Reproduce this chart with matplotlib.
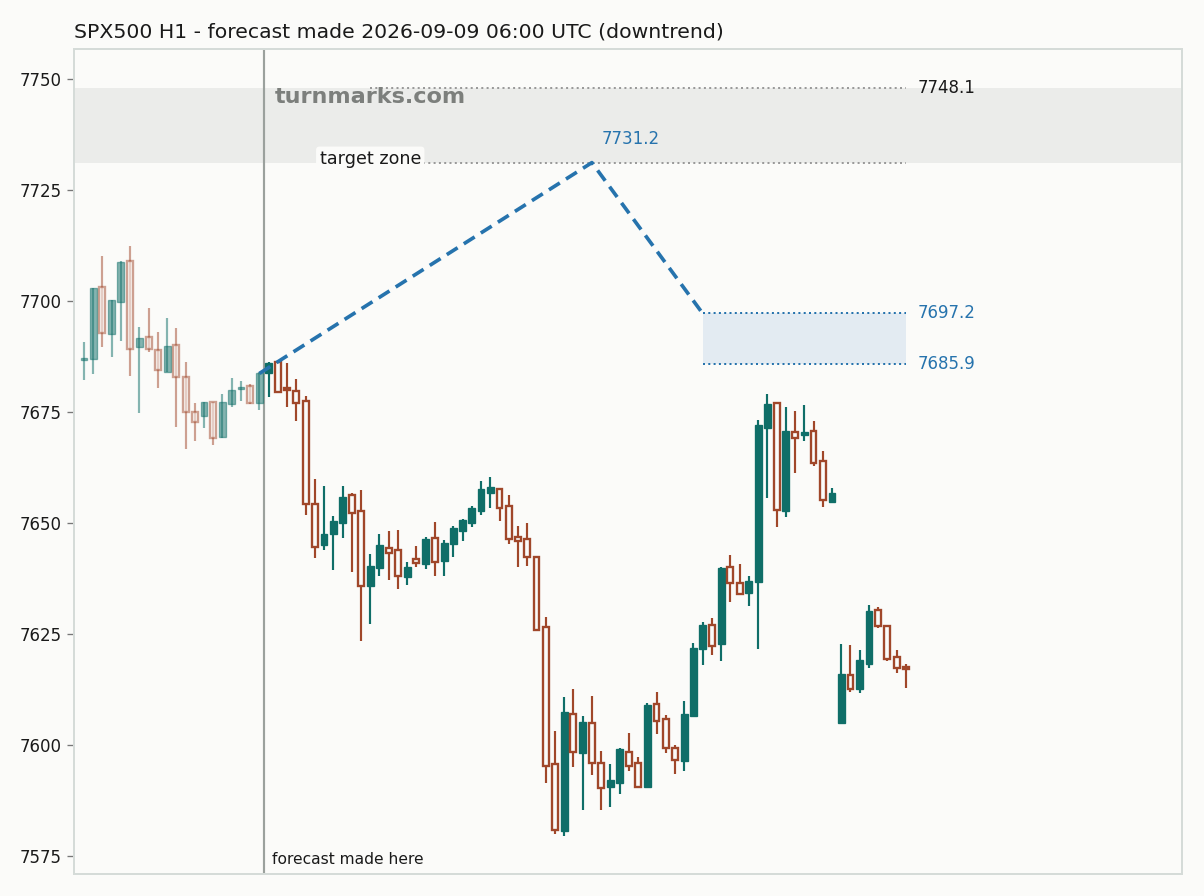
import numpy as np
import matplotlib
matplotlib.use("Agg")
import matplotlib.pyplot as plt

# --- data: hourly OHLC, first 20 bars are history before the forecast -------
opens = [7686.8, 7686.9, 7703.1, 7692.6, 7699.8, 7709.0, 7689.7, 7692.0, 7688.9, 7684.1,
         7690.0, 7683.0, 7674.9, 7674.0, 7677.2, 7669.4, 7676.9, 7680.1, 7680.9, 7677.1,
         7683.9, 7686.2, 7680.4, 7679.8, 7677.4, 7654.2, 7645.0, 7647.6, 7650.1, 7656.2,
         7652.6, 7635.9, 7639.9, 7644.4, 7643.9, 7637.9, 7641.8, 7640.7, 7646.5, 7641.5,
         7645.3, 7648.3, 7650.1, 7652.8, 7656.8, 7657.7, 7653.8, 7646.8, 7646.3, 7642.3,
         7626.5, 7595.7, 7580.5, 7606.9, 7598.1, 7604.9, 7595.9, 7590.4, 7591.5, 7598.4,
         7595.9, 7590.6, 7609.2, 7605.8, 7599.3, 7596.3, 7606.4, 7621.7, 7626.9, 7622.8,
         7640.0, 7636.4, 7634.3, 7636.6, 7671.5, 7677.0, 7652.8, 7670.4, 7669.8, 7670.7,
         7663.9, 7654.8, 7605.0, 7615.7, 7612.5, 7618.3, 7630.4, 7626.7, 7619.8, 7617.5]
highs = [7690.8, 7703.0, 7710.1, 7700.3, 7709.0, 7712.4, 7694.2, 7698.5, 7693.1, 7696.2,
         7694.0, 7686.3, 7677.0, 7677.3, 7677.3, 7679.0, 7682.6, 7682.1, 7681.3, 7684.0,
         7686.2, 7686.3, 7686.0, 7682.4, 7678.6, 7659.9, 7658.3, 7651.6, 7658.3, 7656.7,
         7657.4, 7643.0, 7647.5, 7648.2, 7648.4, 7641.1, 7644.8, 7646.9, 7650.2, 7646.2,
         7649.3, 7650.8, 7653.9, 7659.5, 7660.4, 7657.8, 7656.3, 7649.3, 7650.0, 7642.6,
         7628.8, 7603.2, 7610.7, 7612.6, 7606.5, 7611.0, 7598.6, 7595.7, 7599.2, 7602.7,
         7597.3, 7609.4, 7611.8, 7606.8, 7600.0, 7609.9, 7623.0, 7627.7, 7628.6, 7640.0,
         7642.8, 7640.8, 7638.1, 7673.2, 7679.1, 7677.1, 7676.1, 7675.2, 7676.6, 7673.0,
         7666.2, 7657.9, 7622.7, 7622.5, 7621.4, 7631.5, 7631.1, 7626.8, 7621.4, 7618.2]
lows = [7682.2, 7683.5, 7689.7, 7687.3, 7691.0, 7683.1, 7674.7, 7688.6, 7680.3, 7684.0,
        7671.6, 7666.7, 7668.4, 7671.3, 7667.6, 7669.2, 7676.2, 7677.5, 7676.9, 7675.5,
        7678.4, 7679.2, 7676.2, 7673.0, 7651.9, 7642.0, 7643.8, 7639.4, 7646.7, 7639.0,
        7623.3, 7627.3, 7638.0, 7637.2, 7635.2, 7636.1, 7640.0, 7639.7, 7638.0, 7638.1,
        7642.4, 7646.0, 7649.2, 7651.9, 7653.4, 7650.5, 7645.3, 7640.0, 7640.2, 7625.7,
        7591.5, 7580.0, 7579.4, 7595.1, 7585.4, 7593.3, 7585.4, 7586.1, 7589.0, 7594.0,
        7590.2, 7590.3, 7602.5, 7598.1, 7593.5, 7594.2, 7606.3, 7618.1, 7620.3, 7618.8,
        7632.3, 7633.9, 7631.4, 7621.7, 7655.7, 7649.2, 7651.4, 7661.3, 7668.5, 7662.9,
        7653.7, 7654.6, 7604.8, 7612.0, 7611.6, 7617.4, 7626.4, 7618.8, 7616.3, 7612.7]
closes = [7687.0, 7702.9, 7692.9, 7700.2, 7708.8, 7689.3, 7691.6, 7689.1, 7684.4, 7689.8,
          7682.8, 7675.1, 7672.8, 7677.2, 7669.2, 7677.2, 7679.9, 7680.6, 7677.1, 7683.7,
          7686.0, 7679.4, 7680.0, 7677.0, 7654.2, 7644.5, 7647.5, 7650.5, 7655.9, 7652.2,
          7635.7, 7640.2, 7645.0, 7643.3, 7638.1, 7640.1, 7640.9, 7646.4, 7641.2, 7645.4,
          7648.9, 7650.7, 7653.4, 7657.7, 7658.1, 7653.3, 7646.3, 7646.0, 7642.3, 7625.8,
          7595.2, 7580.8, 7607.4, 7598.4, 7605.2, 7596.0, 7590.2, 7592.1, 7599.1, 7595.2,
          7590.5, 7609.0, 7605.3, 7599.2, 7596.6, 7607.0, 7621.8, 7627.0, 7622.2, 7639.9,
          7636.4, 7634.1, 7636.9, 7672.1, 7676.8, 7653.0, 7670.7, 7669.1, 7670.5, 7663.4,
          7655.1, 7656.8, 7616.0, 7612.5, 7619.1, 7630.2, 7626.7, 7619.3, 7617.3, 7617.1]
N_HIST = 20

# forecast path (bar index, price) and levels
path_x = [19, 55, 67]
path_y = [7683.7, 7731.2, 7697.2]
target_lo, target_hi = 7731.2, 7748.1
zone_lo, zone_hi = 7685.9, 7697.2

# --- style ------------------------------------------------------------------
BG = "#fbfbf9"
UP = "#0f6e68"
DN = "#a0472a"
BLUE = "#2673ad"
plt.rcParams["font.family"] = "DejaVu Sans"

fig = plt.figure(figsize=(1204 / 120, 896 / 120), dpi=120, facecolor=BG)
ax = fig.add_axes([74 / 1204, 1 - 874 / 896, 1108 / 1204, 825 / 896], facecolor=BG)

x = np.arange(len(opens))
o, h, l, c = map(np.array, (opens, highs, lows, closes))
up = c >= o

# --- candles ----------------------------------------------------------------
for i in x:
    a = 0.5 if i < N_HIST else 1.0
    col = UP if up[i] else DN
    ax.vlines(i, l[i], h[i], color=col, lw=1.3, alpha=a, zorder=3)
    bot = min(o[i], c[i])
    ht = max(abs(c[i] - o[i]), 0.35)
    if up[i]:
        ax.bar(i, ht, bottom=bot, width=0.74, color=col, edgecolor=col, lw=0.8,
               alpha=a, zorder=4)
    else:
        ax.bar(i, ht, bottom=bot, width=0.64, color=BG, edgecolor=col, lw=1.4,
               alpha=a, zorder=4)

# --- target band, forecast path, reversal zone ------------------------------
ax.axhspan(target_lo, target_hi, color="#ebecea", zorder=0, lw=0)
ax.hlines([target_lo, target_hi], 31, x[-1], colors="#9a9a9a", linestyles=":",
          lw=1.2, zorder=1)
ax.fill_between([path_x[2], x[-1]], zone_lo, zone_hi, color="#e3ebf2", lw=0, zorder=0)
ax.hlines([zone_lo, zone_hi], path_x[2], x[-1], colors=BLUE, linestyles=":",
          lw=1.2, zorder=1)
ax.plot(path_x, path_y, color=BLUE, lw=2.2, ls=(0, (3.5, 2)), zorder=5)
ax.axvline(19.5, color="#9ba19d", lw=1.3, zorder=2)

# --- labels -----------------------------------------------------------------
lx = x[-1] + 1.3
ax.text(lx, target_hi, f"{target_hi:.1f}", fontsize=10, color="#1a1a1a", va="center")
ax.text(lx, zone_hi, f"{zone_hi:.1f}", fontsize=10, color=BLUE, va="center")
ax.text(lx, zone_lo, f"{zone_lo:.1f}", fontsize=10, color=BLUE, va="center")
ax.text(path_x[1] + 1, path_y[1] + 3.3, f"{path_y[1]:.1f}", fontsize=10, color=BLUE,
        va="bottom")
ax.text(31, target_lo + 0.8, "target zone", fontsize=10.5, color="#1a1a1a", ha="center",
        va="center", zorder=6,
        bbox=dict(boxstyle="round,pad=0.2", fc=BG, ec="none"))
ax.text(0.181, 0.942, "turnmarks.com", transform=ax.transAxes, fontsize=13.4,
        fontweight="bold", color="#7c7f7c", va="center", ha="left", zorder=6)
ax.text(20.35, 0.009, "forecast made here", transform=ax.get_xaxis_transform(),
        fontsize=9.3, color="#1a1a1a", va="bottom", ha="left")

ax.set_xlim(-1.08, 118.9)
ax.set_ylim(7570.9, 7756.8)
ax.set_yticks([7575, 7600, 7625, 7650, 7675, 7700, 7725, 7750])
ax.set_xticks([])
ax.tick_params(axis="y", labelsize=10, color="#777", length=4, labelcolor="#1a1a1a")
for s in ax.spines.values():
    s.set_color("#d5dbd8")
    s.set_linewidth(1.2)
ax.set_title("SPX500 H1 - forecast made 2026-09-09 06:00 UTC (downtrend)", loc="left",
             fontsize=12.2, color="#1a1a1a", pad=7)

fig.savefig("out.png", dpi=120, facecolor=BG)
